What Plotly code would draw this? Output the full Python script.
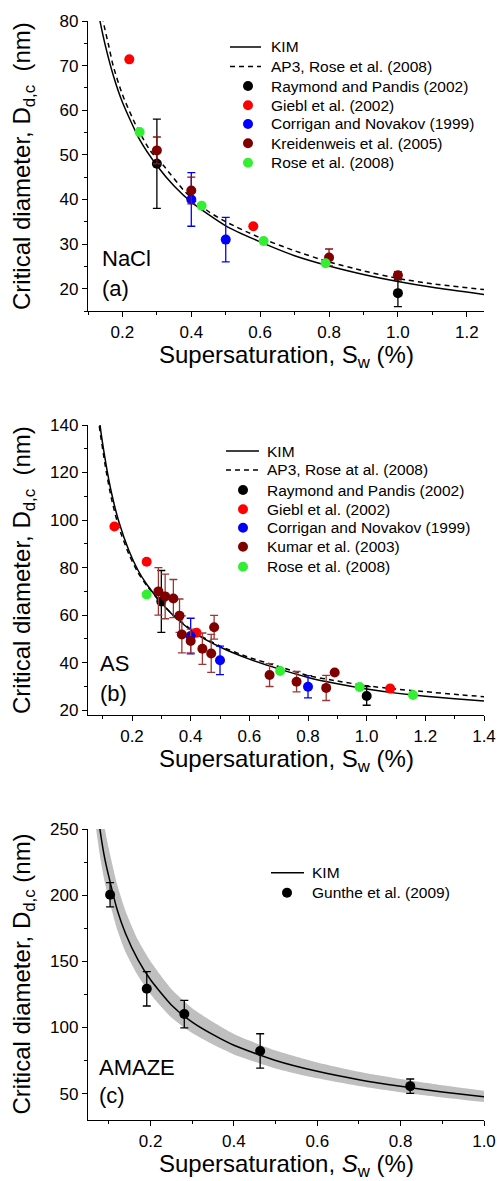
import plotly.graph_objects as go

# ---------------- data ----------------
# Panel (a) NaCl
a_kim_s = [0.125, 0.135, 0.15, 0.175, 0.2, 0.25, 0.3, 0.35, 0.4, 0.5, 0.6, 0.7, 0.8, 0.9, 1.0, 1.1, 1.25]
a_kim_d = [84.0, 79.9, 74.6, 67.4, 61.8, 53.4, 47.6, 43.0, 39.4, 34.1, 30.5, 27.4, 25.1, 23.2, 21.6, 20.3, 18.7]
a_ap3_s = [0.135, 0.144, 0.16, 0.173, 0.2, 0.238, 0.28, 0.318, 0.381, 0.45, 0.5, 0.6, 0.7, 0.8, 0.9, 1.0, 1.1, 1.25]
a_ap3_d = [85.0, 80.0, 74.5, 70.0, 63.5, 56.8, 51.0, 47.7, 41.8, 37.3, 35.0, 31.4, 28.5, 26.0, 24.0, 22.3, 21.1, 19.8]
a_raymond_s = [0.30, 1.00]
a_raymond_d = [48.0, 19.0]
a_raymond_e = [10.0, 3.0]
a_giebl_s = [0.22, 0.58]
a_giebl_d = [71.4, 34.0]
a_corrigan_s = [0.40, 0.50]
a_corrigan_d = [40.0, 31.0]
a_corrigan_e = [6.0, 5.0]
a_kreid_s = [0.30, 0.40, 0.80, 1.00]
a_kreid_d = [51.0, 42.0, 27.0, 23.0]
a_kreid_e = [3.0, 3.0, 1.9, 0.8]
a_rose_s = [0.25, 0.43, 0.61, 0.79]
a_rose_d = [55.1, 38.6, 30.7, 25.7]

# Panel (b) AS
b_kim_s = [0.085, 0.09, 0.11, 0.13, 0.156, 0.19, 0.22, 0.25, 0.3, 0.35, 0.42, 0.5, 0.6, 0.7, 0.8, 0.9, 1.0, 1.1, 1.2, 1.3, 1.4]
b_kim_d = [148.0, 141.0, 124.5, 111.5, 99.0, 87.0, 79.0, 73.0, 65.2, 58.8, 52.0, 46.6, 41.5, 37.4, 33.8, 31.1, 28.9, 27.2, 25.9, 24.8, 23.9]
b_ap3_s = [0.083, 0.088, 0.11, 0.13, 0.155, 0.19, 0.22, 0.25, 0.3, 0.35, 0.42, 0.5, 0.6, 0.7, 0.8, 0.9, 1.0, 1.1, 1.2, 1.3, 1.4]
b_ap3_d = [147.0, 140.0, 122.0, 109.0, 97.0, 85.5, 78.0, 72.5, 65.0, 59.0, 52.3, 47.0, 42.2, 38.4, 34.6, 32.3, 30.3, 28.9, 27.8, 26.7, 25.7]
b_raymond_s = [0.30, 1.00]
b_raymond_d = [65.8, 26.0]
b_raymond_e = [13.0, 3.9]
b_giebl_s = [0.14, 0.25, 0.42, 1.08]
b_giebl_d = [97.3, 82.5, 52.6, 29.1]
b_corrigan_s = [0.40, 0.50, 0.80]
b_corrigan_d = [51.2, 41.0, 29.9]
b_corrigan_e = [7.5, 6.0, 4.7]
b_kumar_s = [0.29, 0.313, 0.341, 0.362, 0.37, 0.40, 0.44, 0.47, 0.48, 0.669, 0.761, 0.862, 0.891]
b_kumar_d = [70.0, 67.9, 67.0, 59.8, 51.9, 49.1, 45.9, 43.9, 54.9, 34.8, 32.0, 29.4, 35.9]
b_kumar_e = [10.0, 9.4, 8.0, 7.0, 7.8, 5.0, 6.6, 8.0, 5.0, 4.8, 4.3, 5.3, 0.0]
b_rose_s = [0.25, 0.705, 0.976, 1.158]
b_rose_d = [68.7, 36.5, 29.8, 26.4]

# Panel (c) AMAZE
c_kim_s = [0.065, 0.079, 0.09, 0.1, 0.12, 0.14, 0.17, 0.2, 0.25, 0.3, 0.35, 0.4, 0.5, 0.6, 0.7, 0.8, 0.9, 1.0]
c_kim_d = [283.0, 249.0, 228.0, 214.0, 189.0, 171.0, 151.0, 136.0, 117.0, 104.0, 94.5, 86.5, 75.0, 66.8, 60.5, 55.5, 51.2, 47.5]
c_upper_d = [311.0, 274.0, 251.0, 235.0, 208.0, 188.0, 166.0, 150.0, 129.0, 114.5, 104.0, 95.0, 82.5, 73.5, 66.5, 61.0, 56.3, 52.2]
c_lower_d = [260.0, 229.0, 210.0, 197.0, 174.0, 157.0, 139.0, 125.0, 107.5, 95.7, 87.0, 79.6, 69.0, 61.5, 55.7, 51.0, 47.1, 43.7]
c_gunthe_s = [0.103, 0.191, 0.281, 0.463, 0.823]
c_gunthe_d = [200.3, 129.2, 110.1, 82.2, 55.6]
c_gunthe_e = [9.2, 13.0, 10.4, 13.0, 5.4]

# ---------------- style ----------------
FONT = "Liberation Sans, Arial, sans-serif"
W, H = 497, 1181
ML, MR, MT, MB = 88, 13, 21, 61
PW, PH = W - ML - MR, H - MT - MB
RED, BLUE, DKRED, GREEN = "#ff0000", "#0000ff", "#800000", "#33ee33"
ERR_DKRED_A, ERR_DKRED_B = "#8b1010", "#9a3838"

panels = {  # pixel top, bottom of each plot area
    "a": (21, 311),
    "b": (425, 715),
    "c": (829, 1120),
}


def ydom(p):
    top, bot = panels[p]
    return [1 - (bot - MT) / PH, 1 - (top - MT) / PH]


def px_paper(px, py):
    return (px - ML) / PW, 1 - (py - MT) / PH


fig = go.Figure()


def curve(xa, ya, s, d, dash=None):
    fig.add_trace(go.Scatter(x=s, y=d, mode="lines", xaxis=xa, yaxis=ya,
                             line=dict(color="black", width=1.5, dash=dash,
                                       shape="spline", smoothing=0.6),
                             showlegend=False, hoverinfo="skip"))


def points(xa, ya, s, d, color, name, err=None, errcolor=None, size=10):
    ey = None
    if err is not None:
        ey = dict(type="data", array=err, visible=True, color=errcolor or color,
                  thickness=1.3, width=4)
    fig.add_trace(go.Scatter(x=s, y=d, mode="markers", xaxis=xa, yaxis=ya, name=name,
                             marker=dict(color=color, size=size, line=dict(width=0)),
                             error_y=ey, showlegend=False))


DASH = "5px,4px"

# Panel (a)
curve("x", "y", a_kim_s, a_kim_d)
curve("x", "y", a_ap3_s, a_ap3_d, DASH)
points("x", "y", a_raymond_s, a_raymond_d, "black", "Raymond and Pandis (2002)", a_raymond_e)
points("x", "y", a_giebl_s, a_giebl_d, RED, "Giebl et al. (2002)")
points("x", "y", a_corrigan_s, a_corrigan_d, BLUE, "Corrigan and Novakov (1999)", a_corrigan_e)
points("x", "y", a_kreid_s, a_kreid_d, DKRED, "Kreidenweis et al. (2005)", a_kreid_e, ERR_DKRED_A)
points("x", "y", a_rose_s, a_rose_d, GREEN, "Rose et al. (2008)")

# Panel (b)
curve("x2", "y2", b_kim_s, b_kim_d)
curve("x2", "y2", b_ap3_s, b_ap3_d, DASH)
points("x2", "y2", b_raymond_s, b_raymond_d, "black", "Raymond and Pandis (2002)", b_raymond_e)
points("x2", "y2", b_giebl_s, b_giebl_d, RED, "Giebl et al. (2002)")
points("x2", "y2", b_corrigan_s, b_corrigan_d, BLUE, "Corrigan and Novakov (1999)", b_corrigan_e)
points("x2", "y2", b_kumar_s, b_kumar_d, DKRED, "Kumar et al. (2003)", b_kumar_e, ERR_DKRED_B)
points("x2", "y2", b_rose_s, b_rose_d, GREEN, "Rose et al. (2008)")

# Panel (c)
fig.add_trace(go.Scatter(x=c_kim_s, y=c_lower_d, mode="lines", xaxis="x3", yaxis="y3",
                         line=dict(width=0, shape="spline", smoothing=0.6),
                         showlegend=False, hoverinfo="skip"))
fig.add_trace(go.Scatter(x=c_kim_s, y=c_upper_d, mode="lines", xaxis="x3", yaxis="y3",
                         line=dict(width=0, shape="spline", smoothing=0.6),
                         fill="tonexty", fillcolor="#bfbfbf",
                         showlegend=False, hoverinfo="skip"))
curve("x3", "y3", c_kim_s, c_kim_d)
points("x3", "y3", c_gunthe_s, c_gunthe_d, "black", "Gunthe et al. (2009)", c_gunthe_e)


# ---------------- axes ----------------
def main_axis(rng, dtick, mdtick, fmt, **kw):
    d = dict(range=rng, dtick=dtick, tick0=0, tickformat=fmt, ticks="outside",
             ticklen=5, tickwidth=1.2, tickcolor="black",
             minor=dict(dtick=mdtick, tick0=0, ticks="outside", ticklen=3,
                        tickwidth=1.2, tickcolor="black"),
             showline=True, linecolor="black", linewidth=1.3,
             showgrid=False, zeroline=False, automargin=False,
             tickfont=dict(family=FONT, size=17, color="black"))
    d.update(kw)
    return d


def mirror_axis(rng, dtick, mdtick, **kw):
    d = dict(range=rng, dtick=dtick, tick0=0, ticks="inside", ticklen=5,
             tickwidth=1.2, tickcolor="black",
             minor=dict(dtick=mdtick, tick0=0, ticks="inside", ticklen=3,
                        tickwidth=1.2, tickcolor="black"),
             showline=True, linecolor="black", linewidth=1.3, automargin=False,
             showgrid=False, zeroline=False, showticklabels=False)
    d.update(kw)
    return d


xr = {"a": [0.1, 1.25], "b": [0.05, 1.4], "c": [0.05, 1.0]}
yr = {"a": [15, 80], "b": [18, 140], "c": [30, 250]}
ydt = {"a": (10, 5), "b": (20, 10), "c": (50, 25)}

layout_axes = {}
for i, p in enumerate(["a", "b", "c"], start=1):
    sx = "" if i == 1 else str(i)
    layout_axes["xaxis" + sx] = main_axis(xr[p], 0.2, 0.1, ".1f", domain=[0, 1], anchor="y" + sx)
    layout_axes["yaxis" + sx] = main_axis(yr[p], ydt[p][0], ydt[p][1], "d", domain=ydom(p), anchor="x" + sx)
    j = i + 3
    layout_axes["xaxis%d" % j] = mirror_axis(xr[p], 0.2, 0.1, overlaying="x" + sx, side="top", anchor="y" + sx)
    layout_axes["yaxis%d" % j] = mirror_axis(yr[p], ydt[p][0], ydt[p][1], overlaying="y" + sx, side="right", anchor="x" + sx)

# ---------------- annotations & legend ----------------
ann = []
shapes = []


def text_px(px, py, text, size, xanchor="left", angle=0):
    x, y = px_paper(px, py)
    ann.append(dict(x=x, y=y, xref="paper", yref="paper", text=text, showarrow=False,
                    xanchor=xanchor, yanchor="middle", textangle=angle,
                    font=dict(family=FONT, size=size, color="black")))


ytitles = {"a": "Critical diameter, D<sub>d,c</sub>&nbsp; (nm)",
           "b": "Critical diameter, D<sub>d,c</sub>&nbsp; (nm)",
           "c": "Critical diameter, D<sub>d,c</sub> (nm)"}
xtitles = {"a": "Supersaturation, S<sub>w</sub> (%)",
           "b": "Supersaturation, S<sub>w</sub> (%)",
           "c": "Supersaturation, <i>S</i><sub>w</sub> (%)"}
for p in ["a", "b", "c"]:
    top, bot = panels[p]
    text_px(23, (top + bot) / 2, ytitles[p], 24, xanchor="center", angle=-90)
    text_px(286, bot + 45, xtitles[p], 24, xanchor="center")

text_px(100, 258, "NaCl", 22)
text_px(100, 288, "(a)", 22)
text_px(98, 663, "AS", 22)
text_px(98, 693, "(b)", 22)
text_px(97, 1067, "AMAZE", 22)
text_px(97, 1095, "(c)", 22)

legends = {
    "a": dict(line=(230, 261), mx=248, tx=269,
              rows=[47, 66.5, 86, 105.3, 124, 143.3, 162.7],
              items=[("KIM", "solid", None), ("AP3, Rose et al. (2008)", "dash", None),
                     ("Raymond and Pandis (2002)", "m", "black"), ("Giebl et al. (2002)", "m", RED),
                     ("Corrigan and Novakov (1999)", "m", BLUE), ("Kreidenweis et al. (2005)", "m", DKRED),
                     ("Rose et al. (2008)", "m", GREEN)]),
    "b": dict(line=(226, 259), mx=243, tx=265,
              rows=[451, 470, 490, 509.3, 527.7, 546.7, 566.7],
              items=[("KIM", "solid", None), ("AP3, Rose at al. (2008)", "dash", None),
                     ("Raymond and Pandis (2002)", "m", "black"), ("Giebl et al. (2002)", "m", RED),
                     ("Corrigan and Novakov (1999)", "m", BLUE), ("Kumar et al. (2003)", "m", DKRED),
                     ("Rose et al. (2008)", "m", GREEN)]),
    "c": dict(line=(271, 304), mx=287, tx=310,
              rows=[872.7, 892.7],
              items=[("KIM", "solid", None), ("Gunthe et al. (2009)", "m", "black")]),
}
refs = {"a": ("x domain", "y domain"), "b": ("x2 domain", "y2 domain"), "c": ("x3 domain", "y3 domain")}
for p, lg in legends.items():
    top, bot = panels[p]
    xref, yref = refs[p]
    for (name, kind, color), py in zip(lg["items"], lg["rows"]):
        yd = (bot - py) / (bot - top)
        if kind in ("solid", "dash"):
            shapes.append(dict(type="line", xref=xref, yref=yref,
                               x0=(lg["line"][0] - ML) / PW, x1=(lg["line"][1] - ML) / PW,
                               y0=yd, y1=yd,
                               line=dict(color="black", width=1.5,
                                         dash=None if kind == "solid" else DASH)))
        else:
            shapes.append(dict(type="circle", xref=xref, yref=yref,
                               xsizemode="pixel", ysizemode="pixel",
                               xanchor=(lg["mx"] - ML) / PW, yanchor=yd,
                               x0=-5, x1=5, y0=-5, y1=5,
                               fillcolor=color, line=dict(width=0)))
        text_px(lg["tx"], py, name, 15.5)

fig.update_layout(
    width=W, height=H,
    margin=dict(l=ML, r=MR, t=MT, b=MB, pad=0, autoexpand=False),
    paper_bgcolor="white", plot_bgcolor="white",
    showlegend=False,
    annotations=ann, shapes=shapes,
    font=dict(family=FONT, color="black"),
    **layout_axes,
)

fig.write_html("out.html",
               config={"displayModeBar": False},
               post_script="document.body.style.margin='0';document.body.style.overflow='hidden';")
